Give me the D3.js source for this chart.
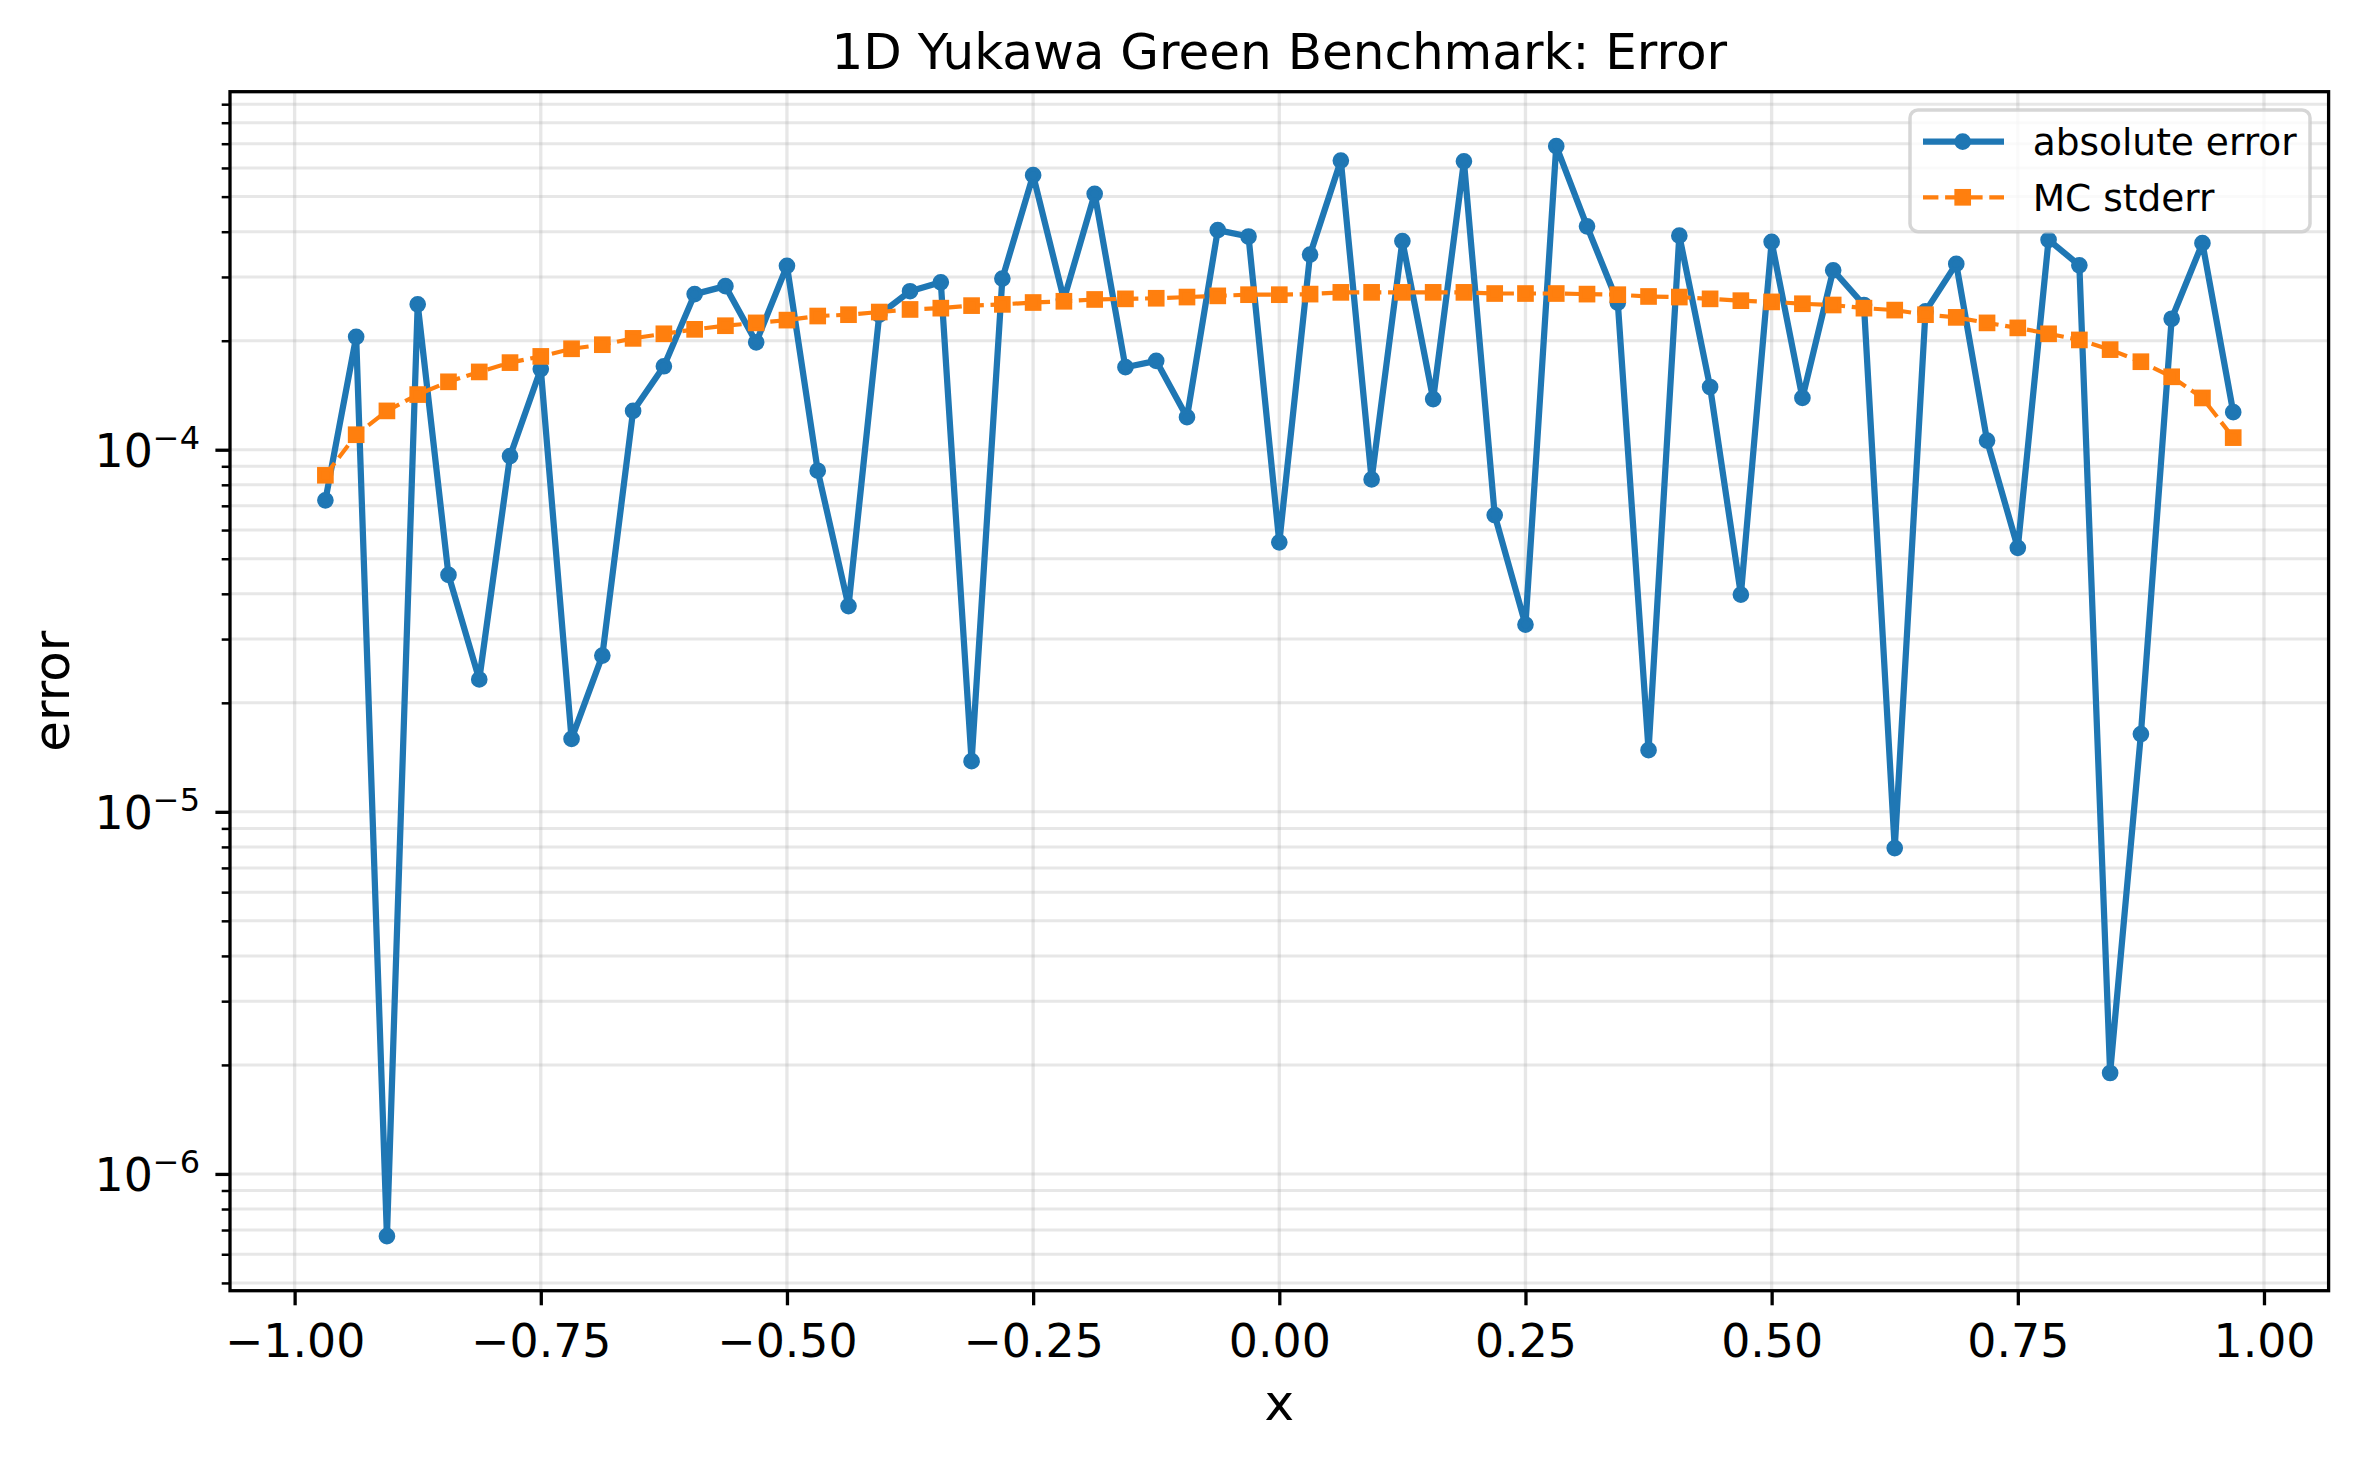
<!DOCTYPE html>
<html><head><meta charset="utf-8">
<script src="https://cdn.jsdelivr.net/npm/d3@7"></script>
<style>body{margin:0;background:#fff} svg{display:block} text{font-family:"DejaVu Sans",sans-serif;fill:#000}</style>
</head><body><svg id="c" width="2358" height="1460"></svg>
<script>
const xValues=[-0.96875,-0.9375,-0.90625,-0.875,-0.84375,-0.8125,-0.78125,-0.75,-0.71875,-0.6875,-0.65625,-0.625,-0.59375,-0.5625,-0.53125,-0.5,-0.46875,-0.4375,-0.40625,-0.375,-0.34375,-0.3125,-0.28125,-0.25,-0.21875,-0.1875,-0.15625,-0.125,-0.09375,-0.0625,-0.03125,0,0.03125,0.0625,0.09375,0.125,0.15625,0.1875,0.21875,0.25,0.28125,0.3125,0.34375,0.375,0.40625,0.4375,0.46875,0.5,0.53125,0.5625,0.59375,0.625,0.65625,0.6875,0.71875,0.75,0.78125,0.8125,0.84375,0.875,0.90625,0.9375,0.96875];
const absErr=[7.25e-5,2.05e-4,6.73e-7,2.52e-4,4.51e-5,2.32e-5,9.6e-5,1.67e-4,1.59e-5,2.70e-5,1.28e-4,1.70e-4,2.69e-4,2.83e-4,1.98e-4,
3.22e-4,8.75e-5,3.70e-5,2.36e-4,2.74e-4,2.90e-4,1.38e-5,2.97e-4,5.73e-4,2.60e-4,5.09e-4,1.69e-4,1.76e-4,1.23e-4,4.04e-4,3.88e-4,5.55e-5,3.46e-4,
6.29e-4,8.28e-5,3.77e-4,1.38e-4,6.26e-4,6.60e-5,3.29e-5,6.89e-4,4.14e-4,2.55e-4,1.48e-5,3.90e-4,1.49e-4,3.98e-5,3.75e-4,1.39e-4,3.13e-4,
2.51e-4,7.94e-6,2.41e-4,3.26e-4,1.06e-4,5.36e-5,3.80e-4,3.23e-4,1.90e-6,1.64e-5,2.30e-4,3.72e-4,1.27e-4];
const mcStderr=[8.5e-5,1.10e-4,1.28e-4,1.42e-4,1.54e-4,1.64e-4,1.74e-4,1.81e-4,1.90e-4,1.95e-4,2.03e-4,2.09e-4,2.15e-4,2.20e-4,2.24e-4,
2.28e-4,2.34e-4,2.36e-4,2.40e-4,2.44e-4,2.46e-4,2.50e-4,2.52e-4,2.55e-4,2.57e-4,2.60e-4,2.61e-4,2.62e-4,2.64e-4,2.66e-4,2.68e-4,2.68e-4,2.69e-4,
2.72e-4,2.72e-4,2.72e-4,2.72e-4,2.72e-4,2.70e-4,2.70e-4,2.70e-4,2.69e-4,2.68e-4,2.65e-4,2.64e-4,2.61e-4,2.58e-4,2.56e-4,2.53e-4,2.51e-4,
2.46e-4,2.43e-4,2.36e-4,2.32e-4,2.24e-4,2.17e-4,2.09e-4,2.01e-4,1.89e-4,1.75e-4,1.59e-4,1.39e-4,1.08e-4];
const xTicks=[-1,-0.75,-0.5,-0.25,0,0.25,0.5,0.75,1];
const xTickLabels=["\u22121.00","\u22120.75","\u22120.50","\u22120.25","0.00","0.25","0.50","0.75","1.00"];
const yTickExps=[-6,-5,-4];
const seriesNames=["absolute error","MC stderr"];
const titleText="1D Yukawa Green Benchmark: Error";
const xLabel="x", yLabel="error";

const BLUE="#1f77b4", ORANGE="#ff7f0e";
const M={left:230,right:2328.6,top:91.7,bottom:1290.7};
const svg=d3.select("#c");

const xr=d3.extent(xValues), xpad=0.05*(xr[1]-xr[0]);
const x=d3.scaleLinear().domain([xr[0]-xpad,xr[1]+xpad]).range([M.left,M.right]);
const all=absErr.concat(mcStderr);
const lmin=Math.log10(d3.min(all)), lmax=Math.log10(d3.max(all)), lp=0.05*(lmax-lmin);
const y=d3.scaleLog().domain([10**(lmin-lp),10**(lmax+lp)]).range([M.bottom,M.top]);
const [y0,y1]=y.domain();

const majorY=yTickExps.map(e=>10**e);
const minorY=[];
for(let e=-8;e<=-2;e++){for(let m=2;m<=9;m++){const v=m*10**e; if(v>=y0&&v<=y1) minorY.push(v);}}

// grid
const g=svg.append("g");
g.selectAll(".gx").data(xTicks).join("line").attr("x1",d=>x(d)).attr("x2",d=>x(d)).attr("y1",M.top).attr("y2",M.bottom)
 .attr("stroke","#b0b0b0").attr("stroke-opacity",0.3).attr("stroke-width",3.3);
g.selectAll(".gy").data(majorY.concat(minorY)).join("line").attr("x1",M.left).attr("x2",M.right).attr("y1",d=>y(d)).attr("y2",d=>y(d))
 .attr("stroke","#b0b0b0").attr("stroke-opacity",0.3).attr("stroke-width",3);

// series
const line=d3.line().x((d,i)=>x(xValues[i])).y(d=>y(d));
svg.append("path").attr("d",line(absErr)).attr("fill","none").attr("stroke",BLUE).attr("stroke-width",6.25).attr("stroke-linejoin","round");
svg.append("g").selectAll("circle").data(absErr).join("circle").attr("cx",(d,i)=>x(xValues[i])).attr("cy",d=>y(d)).attr("r",6.25)
 .attr("fill",BLUE).attr("stroke",BLUE).attr("stroke-width",4.17);
svg.append("path").attr("d",line(mcStderr)).attr("fill","none").attr("stroke",ORANGE).attr("stroke-width",4.17).attr("stroke-dasharray","15.4,6.7");
const sq=12.5;
svg.append("g").selectAll("rect").data(mcStderr).join("rect").attr("x",(d,i)=>x(xValues[i])-sq/2).attr("y",d=>y(d)-sq/2)
 .attr("width",sq).attr("height",sq).attr("fill",ORANGE).attr("stroke",ORANGE).attr("stroke-width",4.17);

// axes
const xa=svg.append("g").attr("transform",`translate(0,${M.bottom})`)
 .call(d3.axisBottom(x).tickValues(xTicks).tickFormat((d,i)=>xTickLabels[i]).tickSize(14.6).tickSizeOuter(0));
xa.select(".domain").remove();
xa.selectAll("line").attr("stroke","#000").attr("stroke-width",3.3);
xa.selectAll("text").attr("y",66).attr("dy",null).style("font-size","45.8px").attr("font-family",null);

const ya=svg.append("g").attr("transform",`translate(${M.left},0)`)
 .call(d3.axisLeft(y).tickValues(majorY).tickFormat("").tickSize(14.6).tickSizeOuter(0));
ya.select(".domain").remove();
ya.selectAll("line").attr("stroke","#000").attr("stroke-width",3.3);
const yam=svg.append("g").attr("transform",`translate(${M.left},0)`)
 .call(d3.axisLeft(y).tickValues(minorY).tickFormat("").tickSize(8.3).tickSizeOuter(0));
yam.select(".domain").remove();
yam.selectAll("line").attr("stroke","#000").attr("stroke-width",2.5);

const yl=svg.append("g").selectAll("text").data(yTickExps).join("text")
 .attr("x",M.left-30).attr("y",d=>y(10**d)+17.2).attr("text-anchor","end").style("font-size","45.8px");
yl.append("tspan").text("10");
yl.append("tspan").attr("dy",-17.7).style("font-size","32px").text(d=>"\u2212"+Math.abs(d));

// spines
svg.append("rect").attr("x",M.left).attr("y",M.top).attr("width",M.right-M.left).attr("height",M.bottom-M.top)
 .attr("fill","none").attr("stroke","#000").attr("stroke-width",3.3);

// labels
svg.append("text").attr("x",(M.left+M.right)/2).attr("y",69).attr("text-anchor","middle").style("font-size","50px").text(titleText);
svg.append("text").attr("x",(M.left+M.right)/2).attr("y",1420).attr("text-anchor","middle").style("font-size","50px").text(xLabel);
svg.append("text").attr("transform",`translate(69.3,${(M.top+M.bottom)/2}) rotate(-90)`).attr("text-anchor","middle").style("font-size","50px").text(yLabel);

// legend
const lg=svg.append("g");
lg.append("rect").attr("x",1910).attr("y",110).attr("width",400).attr("height",121.7).attr("rx",8)
 .attr("fill","#fff").attr("fill-opacity",0.8).attr("stroke","#cccccc").attr("stroke-opacity",0.8).attr("stroke-width",3.5);
const rows=[{name:seriesNames[0],c:BLUE,dash:null,w:6.25,shape:"circle",cy:141.7,ty:155},
            {name:seriesNames[1],c:ORANGE,dash:"15.4,6.7",w:4.17,shape:"square",cy:197.3,ty:210.7}];
rows.forEach(r=>{
  lg.append("line").attr("x1",1923).attr("x2",2004).attr("y1",r.cy).attr("y2",r.cy).attr("stroke",r.c).attr("stroke-width",r.w)
    .attr("stroke-dasharray",r.dash);
  if(r.shape==="circle") lg.append("circle").attr("cx",1962.7).attr("cy",r.cy).attr("r",6.25).attr("fill",r.c).attr("stroke",r.c).attr("stroke-width",4.17);
  else lg.append("rect").attr("x",1962.7-sq/2).attr("y",r.cy-sq/2).attr("width",sq).attr("height",sq).attr("fill",r.c).attr("stroke",r.c).attr("stroke-width",4.17);
  lg.append("text").attr("x",2032.7).attr("y",r.ty).style("font-size","37.5px").text(r.name);
});
</script></body></html>
